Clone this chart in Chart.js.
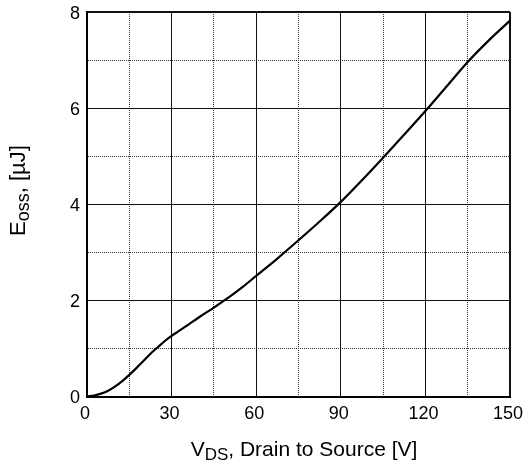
<!DOCTYPE html>
<html>
<head>
<meta charset="utf-8">
<script src="https://cdn.jsdelivr.net/npm/chart.js@4/dist/chart.umd.min.js"></script>
<style>
  html, body { margin: 0; padding: 0; background: #fff; }
  #wrap { width: 525px; height: 466px; position: relative; }
</style>
</head>
<body>
<div id="wrap"><canvas id="c" width="525" height="466"></canvas></div>
<script>
// Data
const vds  = [0, 2.5, 5, 7.5, 10, 12.5, 15, 17.5, 20, 22.5, 25, 27.5, 30, 32.5, 35, 40, 45, 50, 55, 60, 67.5, 75, 82.5, 90, 97.5, 105, 112.5, 120, 127.5, 135, 142.5, 150];
const eoss = [0, 0.02, 0.06, 0.12, 0.21, 0.32, 0.45, 0.59, 0.74, 0.89, 1.02, 1.15, 1.26, 1.36, 1.46, 1.66, 1.85, 2.05, 2.27, 2.51, 2.87, 3.25, 3.64, 4.05, 4.5, 4.97, 5.45, 5.94, 6.45, 6.96, 7.41, 7.82];
const xTickLabels = [0, 30, 60, 90, 120, 150];
const yTickLabels = [0, 2, 4, 6, 8];
const xTitle = { main: "V", sub: "DS", rest: ", Drain to Source [V]" };
const yTitle = { main: "E", sub: "oss", rest: ", [\u00B5J]" };

const FONT = '"Liberation Sans", Arial, Helvetica, sans-serif';

const bgPlugin = {
  id: 'bg',
  beforeDraw(chart) {
    const ctx = chart.ctx;
    ctx.save();
    ctx.fillStyle = '#fff';
    ctx.fillRect(0, 0, chart.width, chart.height);
    ctx.restore();
  }
};

function drawSubTitle(ctx, t, size, subSize, subDrop) {
  ctx.font = size + 'px ' + FONT;
  const w1 = ctx.measureText(t.main).width;
  const w3 = ctx.measureText(t.rest).width;
  ctx.font = subSize + 'px ' + FONT;
  const w2 = ctx.measureText(t.sub).width;
  const total = w1 + w2 + w3;
  let x = -total / 2;
  ctx.textBaseline = 'alphabetic';
  ctx.textAlign = 'left';
  ctx.fillStyle = '#000';
  ctx.font = size + 'px ' + FONT;
  ctx.fillText(t.main, x, 0);
  x += w1;
  ctx.font = subSize + 'px ' + FONT;
  ctx.fillText(t.sub, x, subDrop);
  x += w2;
  ctx.font = size + 'px ' + FONT;
  ctx.fillText(t.rest, x, 0);
}

const titlePlugin = {
  id: 'titles',
  afterDraw(chart) {
    const ctx = chart.ctx;
    ctx.save();
    ctx.translate(304, 456);
    drawSubTitle(ctx, xTitle, 21, 17, 4);
    ctx.restore();
    ctx.save();
    ctx.translate(25, 190.5);
    ctx.rotate(-Math.PI / 2);
    drawSubTitle(ctx, yTitle, 22, 18, 4);
    ctx.restore();
  }
};

function isMajor(val, step) { return Math.abs(val / step - Math.round(val / step)) < 1e-6; }

new Chart(document.getElementById('c'), {
  type: 'line',
  data: {
    datasets: [{
      data: vds.map((v, i) => ({ x: v, y: eoss[i] })),
      borderColor: '#000',
      borderWidth: 2.2,
      pointRadius: 0,
      fill: false,
      cubicInterpolationMode: 'monotone',
      clip: false
    }]
  },
  options: {
    responsive: false,
    animation: false,
    devicePixelRatio: 1,
    layout: { padding: { left: 0, right: 15, top: 12, bottom: 0 } },
    plugins: { legend: { display: false }, tooltip: { enabled: false } },
    scales: {
      x: {
        type: 'linear',
        min: 0, max: 150,
        afterFit(scale) {
          scale.height = 69.5;
          scale.paddingLeft = 0;
          scale.paddingRight = 0;
        },
        ticks: {
          stepSize: 15,
          autoSkip: false,
          maxRotation: 0,
          padding: 7,
          labelOffset: -2,
          color: '#000',
          font: { family: FONT, size: 18 },
          callback: (v) => xTickLabels.includes(v) ? String(v) : ''
        },
        grid: {
          drawTicks: false,
          color: (c) => (c.tick && isMajor(c.tick.value, 30)) ? '#111' : '#333',
          lineWidth: (c) => (c.tick && c.tick.value === 150) ? 2 : 1
        },
        border: {
          display: true, color: '#000', width: 2,
          dash: (c) => (c.tick && !isMajor(c.tick.value, 30)) ? [1, 1] : []
        }
      },
      y: {
        type: 'linear',
        min: 0, max: 8,
        afterFit(scale) {
          scale.width = 87;
          scale.paddingTop = 0;
          scale.paddingBottom = 0;
        },
        ticks: {
          stepSize: 1,
          autoSkip: false,
          padding: 7,
          labelOffset: 2,
          color: '#000',
          font: { family: FONT, size: 18 },
          callback: (v) => yTickLabels.includes(v) ? String(v) : ''
        },
        grid: {
          drawTicks: false,
          color: (c) => (c.tick && isMajor(c.tick.value, 2)) ? '#111' : '#333',
          lineWidth: (c) => (c.tick && c.tick.value === 8) ? 2 : 1
        },
        border: {
          display: true, color: '#000', width: 2,
          dash: (c) => (c.tick && !isMajor(c.tick.value, 2)) ? [1, 1] : []
        }
      }
    }
  },
  plugins: [bgPlugin, titlePlugin]
});
</script>
</body>
</html>
